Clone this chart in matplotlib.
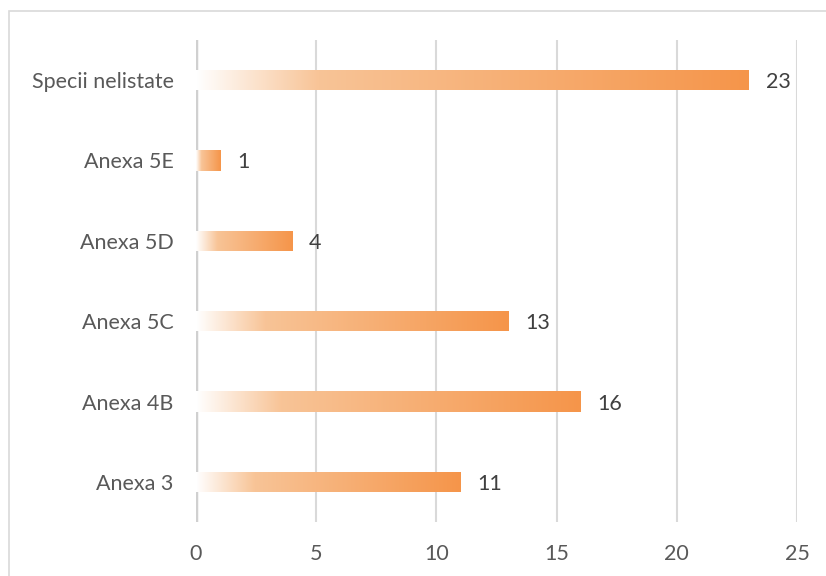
import matplotlib.pyplot as plt
import matplotlib.patches as patches
from matplotlib.colors import LinearSegmentedColormap
import numpy as np

plt.rcParams['font.family'] = ['Lato', 'DejaVu Sans']

categories = ['Anexa 3', 'Anexa 4B', 'Anexa 5C', 'Anexa 5D', 'Anexa 5E', 'Specii nelistate']
values = [11, 16, 13, 4, 1, 23]
xticks = [0, 5, 10, 15, 20, 25]

# white -> orange fade used inside every bar
fade = LinearSegmentedColormap.from_list(
    'fade', [(0.0, '#FFFFFF'), (0.22, '#F8C497'), (1.0, '#F5954A')])

fig = plt.figure(figsize=(8.26, 5.76), dpi=100)
ax = fig.add_axes([196 / 826, 1 - 522 / 576, (797 - 196) / 826, (522 - 40) / 576])

# chart frame
frame = patches.Rectangle((9 / 826, -0.05), 1.2, 1 - 11 / 576 + 0.05,
                          transform=fig.transFigure, fill=False,
                          edgecolor='#D9D9D9', linewidth=1.2, zorder=0)
fig.patches.append(frame)

ypos = np.arange(len(categories))
bar_h = 0.25
bars = ax.barh(ypos, values, height=bar_h, color='none', edgecolor='none', zorder=3)

grad = np.linspace(0, 1, 256).reshape(1, -1)
for bar, v, y in zip(bars, values, ypos):
    im = ax.imshow(grad, cmap=fade, aspect='auto', interpolation='bilinear',
                   extent=(0, v, y - bar_h / 2, y + bar_h / 2), zorder=3)
    im.set_clip_path(bar)
    ax.text(v + 0.7, y, str(v), ha='left', va='center_baseline',
            fontsize=15.5, color='#404040', zorder=4)

ax.set_xlim(0, 25)
ax.set_ylim(-0.5, len(categories) - 0.5)
ax.set_xticks(xticks)
ax.set_yticks(ypos)
ax.set_yticklabels(categories)

for x in xticks:
    ax.axvline(x, color='#D9D9D9' if x else '#D0D0D0', linewidth=1.5 if x else 2.5, zorder=1)

for s in ax.spines.values():
    s.set_visible(False)
ax.tick_params(axis='both', length=0, labelsize=15.5, labelcolor='#595959')
ax.tick_params(axis='x', pad=16)
ax.tick_params(axis='y', pad=16)

fig.savefig('out.png', dpi=100, facecolor='white')
